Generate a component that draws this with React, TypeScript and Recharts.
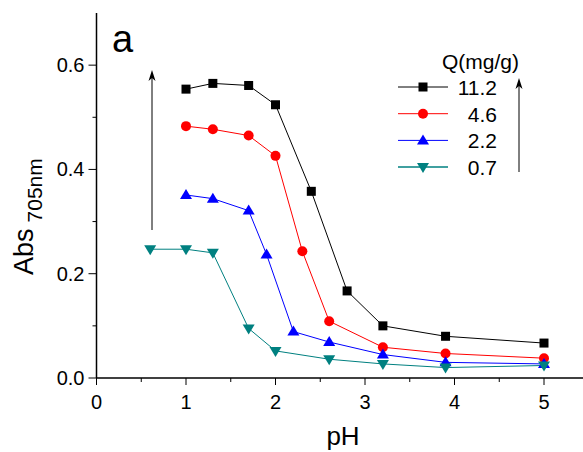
import React from "react";
import { LineChart, Line, XAxis, YAxis, Customized } from "recharts";

// pH values of each series (they were sampled at slightly different pH)
const PH_11_2 = [1.0, 1.3, 1.7, 2.0, 2.4, 2.8, 3.2, 3.9, 5.0];
const PH_4_6 = [1.0, 1.3, 1.7, 2.0, 2.3, 2.6, 3.2, 3.9, 5.0];
const PH_2_2 = [1.0, 1.3, 1.7, 1.9, 2.2, 2.6, 3.2, 3.9, 5.0];
const PH_0_7 = [0.6, 1.0, 1.3, 1.7, 2.0, 2.6, 3.2, 3.9, 5.0];

// Abs at 705nm
const ABS_11_2 = [0.554, 0.565, 0.561, 0.524, 0.358, 0.167, 0.1, 0.08, 0.067];
const ABS_4_6 = [0.483, 0.477, 0.465, 0.426, 0.243, 0.109, 0.059, 0.047, 0.038];
const ABS_2_2 = [0.351, 0.344, 0.321, 0.237, 0.089, 0.069, 0.045, 0.03, 0.027];
const ABS_0_7 = [0.247, 0.247, 0.24, 0.095, 0.052, 0.036, 0.027, 0.02, 0.024];

const X_TICKS = [0, 0.5, 1, 1.5, 2, 2.5, 3, 3.5, 4, 4.5, 5];
const Y_TICKS = [0, 0.1, 0.2, 0.3, 0.4, 0.5, 0.6];

const FONT = "'Liberation Sans', Arial, sans-serif";

type Shape = "square" | "circle" | "up" | "down";

const zip = (xs: number[], ys: number[]) => xs.map((ph, i) => ({ ph, abs: ys[i] }));

const SERIES: { name: string; color: string; shape: Shape; data: { ph: number; abs: number }[] }[] = [
  { name: "11.2", color: "#000000", shape: "square", data: zip(PH_11_2, ABS_11_2) },
  { name: "4.6", color: "#ff0000", shape: "circle", data: zip(PH_4_6, ABS_4_6) },
  { name: "2.2", color: "#0000ff", shape: "up", data: zip(PH_2_2, ABS_2_2) },
  { name: "0.7", color: "#008080", shape: "down", data: zip(PH_0_7, ABS_0_7) },
];

function Mark({ cx, cy, shape, color }: { cx: number; cy: number; shape: Shape; color: string }) {
  if (shape === "square") return <rect x={cx - 4.5} y={cy - 4.5} width={9} height={9} fill={color} />;
  if (shape === "circle") return <circle cx={cx} cy={cy} r={5} fill={color} />;
  if (shape === "up")
    return <polygon points={`${cx},${cy - 6} ${cx + 6},${cy + 4} ${cx - 6},${cy + 4}`} fill={color} />;
  return <polygon points={`${cx},${cy + 6} ${cx + 6},${cy - 4} ${cx - 6},${cy - 4}`} fill={color} />;
}

const XTick = (props: any) => {
  const { x, y, payload } = props;
  const major = Number.isInteger(payload.value);
  return (
    <g>
      <line x1={x} x2={x} y1={y} y2={y + (major ? 7 : 4)} stroke="#000" />
      {major && (
        <text x={x} y={y + 31} textAnchor="middle" fontSize={20} fontFamily={FONT} fill="#000">
          {payload.value}
        </text>
      )}
    </g>
  );
};

const YTick = (props: any) => {
  const { x, y, payload } = props;
  const major = Math.round(payload.value * 10) % 2 === 0;
  return (
    <g>
      <line x1={x} x2={x - (major ? 8 : 4)} y1={y} y2={y} stroke="#000" />
      {major && (
        <text x={x - 12} y={y + 7} textAnchor="end" fontSize={20} fontFamily={FONT} fill="#000">
          {payload.value.toFixed(1)}
        </text>
      )}
    </g>
  );
};

// vertical arrow pointing up, tip at (x, top)
const UpArrow = ({ x, top, bottom }: { x: number; top: number; bottom: number }) => (
  <g>
    <line x1={x} x2={x} y1={bottom} y2={top + 6} stroke="#000" strokeWidth={1} />
    <polygon points={`${x},${top} ${x + 3.5},${top + 11} ${x},${top + 8} ${x - 3.5},${top + 11}`} fill="#000" />
  </g>
);

const Overlay = () => (
  <g fontFamily={FONT}>
    <text x={112} y={52} fontSize={38} fill="#000">a</text>
    <UpArrow x={152} top={70} bottom={230} />
    <UpArrow x={519} top={78} bottom={172} />
    <text x={442} y={69} fontSize={21} fill="#000">Q(mg/g)</text>
    {SERIES.map((s, i) => {
      const y = 87 + i * 26.7;
      return (
        <g key={s.name}>
          <line x1={398} x2={448} y1={y} y2={y} stroke={s.color} strokeWidth={s.shape === "down" ? 1.5 : 1} />
          <Mark cx={423} cy={y} shape={s.shape} color={s.color} />
          <text x={497} y={y + 8} textAnchor="end" fontSize={21} fill="#000">{s.name}</text>
        </g>
      );
    })}
    <text transform="translate(33,275) rotate(-90)" fill="#000">
      <tspan fontSize={27}>Abs</tspan>
      <tspan fontSize={21} dx={6} dy={9}>705nm</tspan>
    </text>
    <text x={343} y={445} textAnchor="middle" fontSize={26} fill="#000">pH</text>
  </g>
);

export default function App() {
  return (
    <div style={{ position: "absolute", left: 0, top: 0, background: "#fff" }}>
      <LineChart width={600} height={452} margin={{ top: 13, right: 11.25, bottom: 0, left: 0.5 }}>
        <XAxis
          xAxisId="main"
          dataKey="ph"
          type="number"
          domain={[0, 5.5]}
          ticks={X_TICKS}
          interval={0}
          allowDuplicatedCategory={false}
          height={74}
          tickLine={false}
          tickSize={0}
          tickMargin={0}
          tick={<XTick />}
          axisLine={{ stroke: "#000", strokeWidth: 1.5 }}
        />
        <XAxis
          xAxisId="top"
          orientation="top"
          type="number"
          domain={[0, 5.5]}
          ticks={X_TICKS}
          height={0}
          tick={false}
          tickSize={2}
          tickLine={{ stroke: "#999" }}
          axisLine={{ stroke: "#000", strokeWidth: 1.5 }}
        />
        <YAxis
          type="number"
          domain={[0, 0.7]}
          ticks={Y_TICKS}
          interval={0}
          width={96}
          tickLine={false}
          tickSize={0}
          tickMargin={0}
          tick={<YTick />}
          axisLine={{ stroke: "#000", strokeWidth: 1.5 }}
        />
        {SERIES.map((s) => (
          <Line
            key={s.name}
            xAxisId="main"
            data={s.data}
            dataKey="abs"
            type="linear"
            stroke={s.color}
            strokeWidth={1}
            isAnimationActive={false}
            dot={(p: any) => <Mark key={`${s.name}-${p.index}`} cx={p.cx} cy={p.cy} shape={s.shape} color={s.color} />}
            activeDot={false}
          />
        ))}
        <Customized component={Overlay} />
      </LineChart>
    </div>
  );
}
